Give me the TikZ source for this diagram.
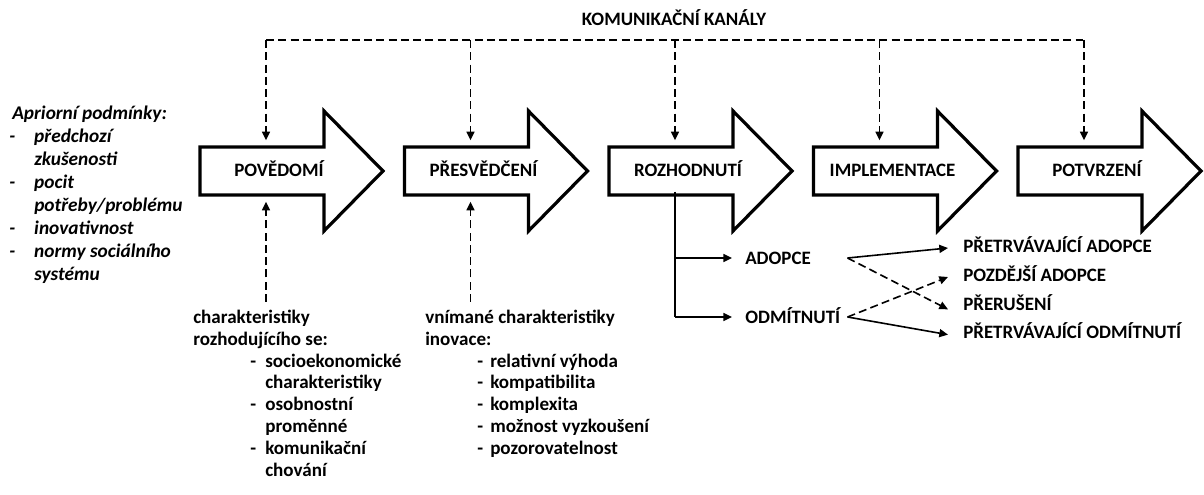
\documentclass[tikz,border=0pt]{standalone}
\usepackage{fontspec}
\setmainfont{Carlito}
\usepackage{array}
\usetikzlibrary{arrows.meta}

\tikzset{
  stagearrow/.style={line width=2.4pt, line join=miter, fill=white},
  stagetext/.style={font=\fontsize{14.2}{16}\selectfont\bfseries, inner sep=0pt, anchor=base},
  listtext/.style={font=\fontsize{14.3}{16.35}\selectfont\bfseries, inner sep=0pt},
  outtext/.style={font=\fontsize{14.2}{16}\selectfont\bfseries, text width=66.75pt, align=left, inner xsep=9.75pt, inner ysep=2pt, text height=9.2pt, text depth=0pt},
  restext/.style={font=\fontsize{14.2}{16}\selectfont\bfseries, inner xsep=11.25pt, inner ysep=2pt, text height=9.2pt, text depth=0pt},
  chan/.style={line width=1.2pt, dash pattern={on 6pt off 3.2pt}},
  flow/.style={line width=1.2pt},
  tip/.style={-{Triangle[length=6.5pt,width=6pt]}}
}

\begin{document}
\begin{tikzpicture}[x=0.75pt,y=0.75pt,yscale=-1]
        \useasboundingbox (0,0) rectangle (1204,495);

        %Shapes: block arrows of the stages
        \foreach \i/\nm/\txt in {0/aware/POVĚDOMÍ,1/persuade/PŘESVĚDČENÍ,2/decide/ROZHODNUTÍ,3/impl/IMPLEMENTACE,4/confirm/POTVRZENÍ}{
          \pgfmathsetmacro{\xl}{200+204.5*\i}
          \draw[stagearrow] (\xl,147) -- (\xl+124,147) -- (\xl+124,111) -- (\xl+183,171) -- (\xl+124,231) -- (\xl+124,195) -- (\xl,195) -- cycle;
          \node[stagetext] (\nm) at (\xl+79,177) {\txt};
          \coordinate (\nm-top) at (\xl+66,147);
          \coordinate (\nm-bot) at (\xl+66,195);
        }

        % Text Node
        \node[stagetext] (kanaly) at (674,26) {KOMUNIKAČNÍ KANÁLY};
        \coordinate (bus-l) at (266,40);
        \coordinate (bus-r) at (1083,40);
        \draw[chan] (bus-l) -- (bus-r);
        \foreach \nm in {aware,persuade,decide,impl,confirm}
          \draw[chan,tip,shorten >=5pt] (\nm-top |- bus-l) -- (\nm-top);

        % Text Node
        \node[listtext, anchor=north west] (prior) at (9,103) {\fontsize{14.5}{17.25}\selectfont\itshape
          \begin{tabular}{@{}p{18.75pt}@{}l@{}}
          \multicolumn{2}{@{}l@{}}{\hspace{2.25pt}Apriorní podmínky:}\\
          - & předchozí\\
            & zkušenosti\\
          - & pocit\\
            & potřeby/problému\\
          - & inovativnost\\
          - & normy sociálního\\
            & systému
          \end{tabular}};

        % Text Node
        \node[listtext, anchor=north west] (adopter) at (193,308) {%
          \begin{tabular}{@{}p{42.75pt}@{}p{11.25pt}@{}l@{}}
          \multicolumn{3}{@{}l@{}}{charakteristiky}\\
          \multicolumn{3}{@{}l@{}}{rozhodujícího se:}\\
          & - & socioekonomické\\
          &   & charakteristiky\\
          & - & osobnostní\\
          &   & proměnné\\
          & - & komunikační\\
          &   & chování
          \end{tabular}};

        % Text Node
        \node[listtext, anchor=north west] (innov) at (425,308) {%
          \begin{tabular}{@{}p{39pt}@{}p{9.75pt}@{}l@{}}
          \multicolumn{3}{@{}l@{}}{vnímané charakteristiky}\\
          \multicolumn{3}{@{}l@{}}{inovace:}\\
          & - & relativní výhoda\\
          & - & kompatibilita\\
          & - & komplexita\\
          & - & možnost vyzkoušení\\
          & - & pozorovatelnost
          \end{tabular}};

        \draw[chan,tip,shorten <=4.5pt,shorten >=5pt] (aware-bot |- adopter.north) -- (aware-bot);
        \draw[chan,tip,shorten <=4.5pt,shorten >=5pt] (persuade-bot |- innov.north) -- (persuade-bot);

        % Decision branches
        \node[outtext, anchor=west] (adop) at (732,258) {ADOPCE};
        \node[outtext, anchor=west] (rej) at (732,317) {ODMÍTNUTÍ};
        \draw[flow] ([yshift=-2.5pt]decide-bot) -- (decide-bot |- rej);
        \draw[flow,tip] (decide-bot |- adop) -- (adop.west);
        \draw[flow,tip] (decide-bot |- rej) -- (rej.west);

        \node[restext, anchor=west] (keepad) at (948,246) {PŘETRVÁVAJÍCÍ ADOPCE};
        \node[restext, anchor=west] (later) at (948,275) {POZDĚJŠÍ ADOPCE};
        \node[restext, anchor=west] (stop) at (948,304) {PŘERUŠENÍ};
        \node[restext, anchor=west] (keeprej) at (948,332) {PŘETRVÁVAJÍCÍ ODMÍTNUTÍ};

        \draw[flow,tip] (adop.east) -- ([yshift=1.5pt]keepad.west);
        \draw[chan,tip] (adop.east) -- ([yshift=4pt]stop.west);
        \draw[chan,tip] (rej.east) -- ([yshift=1.5pt]later.west);
        \draw[flow,tip] (rej.east) -- ([yshift=2pt]keeprej.west);

\end{tikzpicture}
\end{document}
